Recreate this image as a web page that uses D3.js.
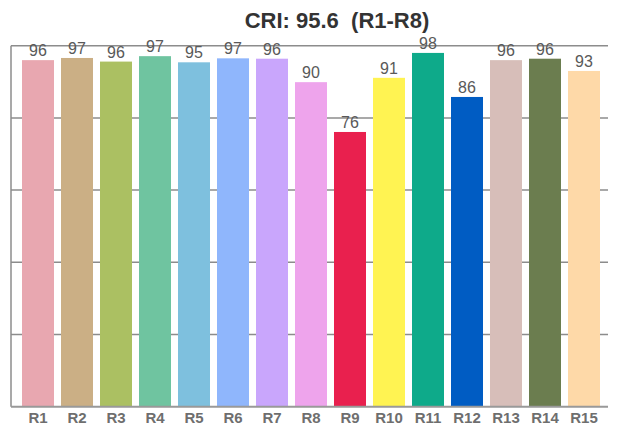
<!DOCTYPE html>
<html>
<head>
<meta charset="utf-8">
<script src="https://cdn.jsdelivr.net/npm/d3@7"></script>
<style>
  html, body { margin: 0; padding: 0; background: #fff; }
  svg { display: block; font-family: "Liberation Sans", Arial, sans-serif; }
</style>
</head>
<body>
<div id="chart"></div>
<script>
const categories = ["R1","R2","R3","R4","R5","R6","R7","R8","R9","R10","R11","R12","R13","R14","R15"];
const values = [96.0, 96.6, 95.6, 97.1, 95.4, 96.5, 96.4, 89.9, 76.1, 91.1, 98.0, 85.8, 96.0, 96.4, 93.0];
const colors = ["#e8a7b0","#cbaf85","#abc062","#6fc4a0","#7ec0de","#8fb6fc","#c9a6fc","#eea4ec",
                "#e9204e","#fff352","#0eaa8a","#005cc3","#d7beb9","#6b7d4f","#fed9a8"];
const yTicks = [0, 20, 40, 60, 80, 100];
const title = "CRI: 95.6  (R1-R8)";

const W = 629, H = 429;
const plot = { left: 11, right: 608, top: 45.7, bottom: 406.7 };

const svg = d3.select("#chart").append("svg").attr("width", W).attr("height", H);

const x = d3.scaleBand().domain(categories).range([18.5, 603.5])
  .paddingInner(7/39).paddingOuter(3.5/39);
const y = d3.scaleLinear().domain([0, 100]).range([plot.bottom, plot.top]);

// gridlines
svg.append("g").selectAll("line").data(yTicks.filter(t => t > 0)).join("line")
  .attr("x1", plot.left).attr("x2", plot.right)
  .attr("y1", d => y(d)).attr("y2", d => y(d))
  .attr("stroke", "#8c8c8c").attr("stroke-width", 1.5);

// bars
svg.append("g").selectAll("rect").data(categories).join("rect")
  .attr("x", d => x(d)).attr("width", x.bandwidth())
  .attr("y", (d, i) => y(values[i]))
  .attr("height", (d, i) => y(0) - y(values[i]))
  .attr("fill", (d, i) => colors[i]);

// value labels
svg.append("g").selectAll("text").data(categories).join("text")
  .attr("x", d => x(d) + x.bandwidth() / 2)
  .attr("y", (d, i) => y(values[i]) - 4)
  .attr("text-anchor", "middle")
  .attr("font-size", 16)
  .attr("fill", "#595959")
  .text((d, i) => Math.round(values[i]));

// axes lines
svg.append("line").attr("x1", plot.left).attr("x2", plot.left)
  .attr("y1", plot.top).attr("y2", plot.bottom)
  .attr("stroke", "#8c8c8c").attr("stroke-width", 1.5);
const xAxis = svg.append("g").attr("transform", `translate(0,${plot.bottom})`)
  .call(d3.axisBottom(x).tickSize(0).tickPadding(6));
xAxis.select(".domain").remove();
svg.append("line").attr("x1", plot.left).attr("x2", plot.right)
  .attr("y1", plot.bottom).attr("y2", plot.bottom)
  .attr("stroke", "#999").attr("stroke-width", 2);
xAxis.selectAll("text")
  .attr("font-family", "Liberation Sans, Arial, sans-serif")
  .attr("font-size", 15).attr("font-weight", "bold").attr("fill", "#6e6e6e");

// title
svg.append("text").attr("x", 337).attr("y", 28)
  .attr("text-anchor", "middle")
  .attr("font-size", 22).attr("font-weight", "bold").attr("fill", "#333")
  .style("white-space", "pre")
  .text(title);
</script>
</body>
</html>
